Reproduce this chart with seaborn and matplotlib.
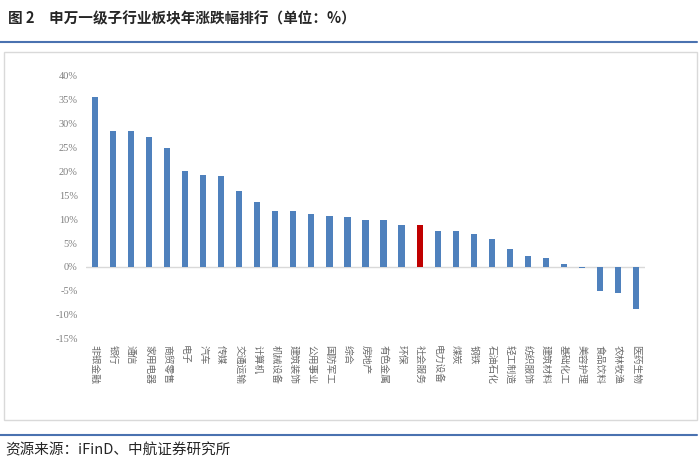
import matplotlib
matplotlib.use("Agg")
import matplotlib.pyplot as plt
import seaborn as sns
import pandas as pd
from matplotlib.patches import Rectangle
from matplotlib.lines import Line2D

# datos
industrias = ["非银金融", "银行", "通信", "家用电器", "商贸零售", "电子", "汽车", "传媒",
              "交通运输", "计算机", "机械设备", "建筑装饰", "公用事业", "国防军工", "综合",
              "房地产", "有色金属", "环保", "社会服务", "电力设备", "煤炭", "钢铁",
              "石油石化", "轻工制造", "纺织服饰", "建筑材料", "基础化工", "美容护理",
              "食品饮料", "农林牧渔", "医药生物"]
rendimiento = [35.4, 28.3, 28.3, 27.0, 24.7, 20.1, 19.2, 19.0,
               15.9, 13.6, 11.7, 11.6, 11.1, 10.65, 10.5,
               9.8, 9.75, 8.85, 8.8, 7.5, 7.4, 6.9,
               5.8, 3.75, 2.2, 1.9, 0.7, -0.3,
               -4.9, -5.5, -8.8]
destacado = "社会服务"
yticks = [-15, -10, -5, 0, 5, 10, 15, 20, 25, 30, 35, 40]

df = pd.DataFrame({"industria": industrias, "valor": rendimiento})

sns.set_style("white")
plt.rcParams['font.family'] = ['Noto Sans CJK SC', 'DejaVu Sans']

fig = plt.figure(figsize=(7, 4.59), dpi=100)
ax = fig.add_axes([86/700, 1-339/459, 559/700, 264/459])

colores = ["#C00000" if n == destacado else "#4F81BD" for n in industrias]
sns.barplot(data=df, x="industria", y="valor", hue="industria", palette=colores,
            legend=False, width=0.34, ax=ax, saturation=1, linewidth=0)

ax.set_xlim(-0.5, len(industrias) - 0.5)
ax.set_ylim(-15, 40)
ax.set_yticks(yticks)
ax.set_yticklabels([f"{v}%" for v in yticks], family="Liberation Serif",
                   fontsize=7.5, color="#7f7f7f")
ax.axhline(0, color="#d9d9d9", lw=1, zorder=0.5)
ax.set_xlabel("")
ax.set_ylabel("")
for s in ax.spines.values():
    s.set_visible(False)
ax.tick_params(axis="both", length=0)
ax.tick_params(axis="y", pad=6)

# etiquetas verticales debajo del eje
ax.set_xticks(range(len(industrias)))
ax.set_xticklabels([])
for i, n in enumerate(industrias):
    ax.text(i, -16.3, n, rotation=270, ha="center", va="top", fontsize=7,
            color="#6b6b6b")

# marco gris, lineas azules y textos
fig.add_artist(Rectangle((4/700, 1-420/459), 693/700, 368/459, transform=fig.transFigure,
                         fill=False, edgecolor="#d9d9d9", lw=1))
fig.add_artist(Line2D([0, 697/700], [1-42/459, 1-42/459], transform=fig.transFigure,
                      color="#4a72b0", lw=1.5))
fig.add_artist(Line2D([0, 697/700], [1-435/459, 1-435/459], transform=fig.transFigure,
                      color="#4a72b0", lw=1.5))
fig.text(8/700, 1-18/459, "图 2　申万一级子行业板块年涨跌幅排行（单位：%）",
         fontsize=10.5, fontweight="bold", va="center", ha="left")
fig.text(5/700, 1-450/459, "资源来源：iFinD、中航证券研究所",
         fontsize=10.5, va="center", ha="left")

fig.savefig("out.png", dpi=100)
